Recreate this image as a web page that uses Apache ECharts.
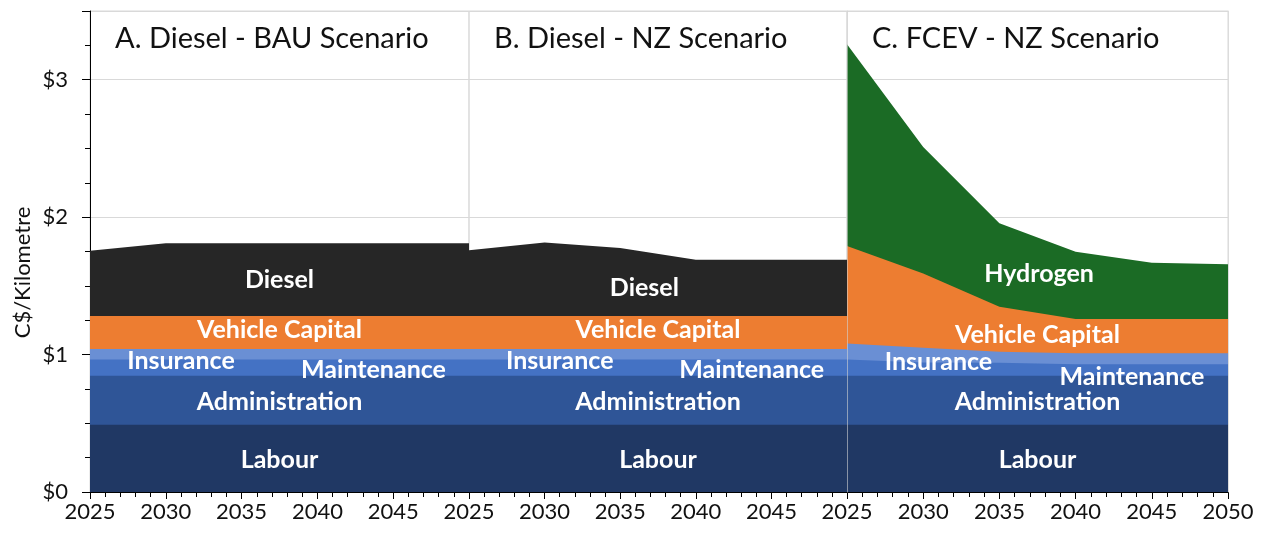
<!DOCTYPE html>
<html>
<head>
<meta charset="utf-8">
<script src="https://cdn.jsdelivr.net/npm/echarts@6/dist/echarts.min.js"></script>
<style>
  html, body { margin: 0; padding: 0; background: #fff; }
  #chart { width: 1261px; height: 536px; }
</style>
</head>
<body>
<div id="chart"></div>
<script>
// data, C$/km
const years = [2025, 2030, 2035, 2040, 2045, 2050];
const layerNames = ["Labour", "Administration", "Maintenance", "Insurance", "Vehicle Capital"];

const labourA = [0.49, 0.49, 0.49, 0.49, 0.49, 0.49];
const adminA = [0.355, 0.355, 0.355, 0.355, 0.355, 0.355];
const maintA = [0.12, 0.12, 0.12, 0.12, 0.12, 0.12];
const insurA = [0.075, 0.075, 0.075, 0.075, 0.075, 0.075];
const capitalA = [0.24, 0.24, 0.24, 0.24, 0.24, 0.24];
const dieselA = [0.475, 0.53, 0.53, 0.53, 0.53, 0.53];

const labourB = [0.49, 0.49, 0.49, 0.49, 0.49, 0.49];
const adminB = [0.355, 0.355, 0.355, 0.355, 0.355, 0.355];
const maintB = [0.12, 0.12, 0.12, 0.12, 0.12, 0.12];
const insurB = [0.075, 0.075, 0.075, 0.075, 0.075, 0.075];
const capitalB = [0.24, 0.24, 0.24, 0.24, 0.24, 0.24];
const dieselB = [0.48, 0.535, 0.495, 0.41, 0.41, 0.41];

const labourC = [0.49, 0.49, 0.49, 0.49, 0.49, 0.49];
const adminC = [0.355, 0.355, 0.355, 0.355, 0.355, 0.355];
const maintC = [0.12, 0.097, 0.095, 0.085, 0.085, 0.085];
const insurC = [0.115, 0.108, 0.08, 0.08, 0.08, 0.08];
const capitalC = [0.71, 0.54, 0.328, 0.248, 0.248, 0.248];
const hydrogenC = [1.468, 0.92, 0.608, 0.49, 0.41, 0.40];

const panelTitles = ["A. Diesel - BAU Scenario", "B. Diesel - NZ Scenario", "C. FCEV - NZ Scenario"];
const yTicks = [0, 1, 2, 3];

const colors = {
    "Labour": "#203864",
    "Administration": "#2f5597",
    "Maintenance": "#4472c4",
    "Insurance": "#6a8fd4",
    "Vehicle Capital": "#ed7d31",
    "Diesel": "#262626",
    "Hydrogen": "#1b6b25"
};

const panels = [
    {names: [...layerNames, "Diesel"], layers: [labourA, adminA, maintA, insurA, capitalA, dieselA]},
    {names: [...layerNames, "Diesel"], layers: [labourB, adminB, maintB, insurB, capitalB, dieselB]},
    {names: [...layerNames, "Hydrogen"], layers: [labourC, adminC, maintC, insurC, capitalC, hydrogenC]}
];

// where each area label sits: [layer, year, pixel shift down]
const labelSpots = [
    [[0, 2037.5, 2], [1, 2037.5, 2], [2, 2043.7, 2], [3, 2031, 7], [4, 2037.5, -3], [5, 2037.5, 0]],
    [[0, 2037.5, 2], [1, 2037.5, 2], [2, 2043.7, 2], [3, 2031, 7], [4, 2037.5, -3], [5, 2036.6, 4]],
    [[0, 2037.5, 2], [1, 2037.5, 2], [2, 2043.7, 7], [3, 2031, 6], [4, 2037.5, 2], [5, 2037.6, -2]]
];

const FONT = "Lato, 'Open Sans', sans-serif";

const valueAt = (arr, yr) => {
    for (let i = 0; i < years.length - 1; i++) {
        if (yr >= years[i] && yr <= years[i + 1]) {
            const t = (yr - years[i]) / (years[i + 1] - years[i]);
            return arr[i] + t * (arr[i + 1] - arr[i]);
        }
    }
    return arr[arr.length - 1];
};
const layerMid = (layers, k, yr) => {
    let base = 0;
    for (let j = 0; j < k; j++) base += valueAt(layers[j], yr);
    return base + valueAt(layers[k], yr) / 2;
};
// running totals, so each area can be filled down to zero
const cumulative = layers => {
    const out = [];
    let run = years.map(() => 0);
    layers.forEach(l => {
        run = run.map((v, j) => v + l[j]);
        out.push(run);
    });
    return out;
};

const gridBox = [
    {left: 90, width: 379},
    {left: 469, width: 378},
    {left: 847, width: 381}
];

const chart = echarts.init(document.getElementById("chart"));

const grid = gridBox.map(g => ({
    left: g.left, width: g.width, top: 11, bottom: 44,
    show: true, borderColor: "#d9d9d9", borderWidth: 1, backgroundColor: "transparent"
}));

const xAxis = gridBox.map((g, i) => ({
    type: "value", gridIndex: i, min: 2025, max: 2050, interval: 5,
    axisLine: {show: true, lineStyle: {color: "#000", width: 1}},
    axisTick: {show: true, length: 7, lineStyle: {color: "#000"}},
    minorTick: {show: true, splitNumber: 5, length: 5, lineStyle: {color: "#000"}},
    axisLabel: {
        color: "#111", fontSize: 22, fontFamily: FONT, margin: 9,
        showMaxLabel: i === 2, showMinLabel: true,
        formatter: v => String(v)
    },
    splitLine: {show: false}
}));

const yBase = {type: "value", min: 0, max: 3.5, interval: 1};
const yAxis = [
    // panel A: labels + major ticks
    {...yBase, gridIndex: 0,
        name: "C$/Kilometre", nameLocation: "middle", nameGap: 56,
        nameTextStyle: {fontSize: 22, fontFamily: FONT, color: "#111", padding: [0, 42, 0, 0]},
        axisLine: {show: true, lineStyle: {color: "#000"}},
        axisTick: {show: true, length: 8, lineStyle: {color: "#000"}},
        axisLabel: {color: "#111", fontSize: 22, fontFamily: FONT, margin: 22,
            formatter: v => yTicks.includes(v) ? "$" + v : ""},
        splitLine: {show: true, lineStyle: {color: "#d9d9d9"}}
    },
    // panel A: minor ticks
    {type: "value", min: 0, max: 3.5, interval: 0.25, gridIndex: 0, position: "left",
        axisLine: {show: false}, axisTick: {show: true, length: 5, lineStyle: {color: "#000"}},
        axisLabel: {show: false}, splitLine: {show: false}},
    // panels B, C: gridlines
    {...yBase, gridIndex: 1, axisLine: {show: false}, axisTick: {show: false}, axisLabel: {show: false},
        splitLine: {show: true, lineStyle: {color: "#d9d9d9"}}},
    {...yBase, gridIndex: 2, axisLine: {show: false}, axisTick: {show: false}, axisLabel: {show: false},
        splitLine: {show: true, lineStyle: {color: "#d9d9d9"}}},
    // panel dividers drawn over the areas
    {...yBase, gridIndex: 1, z: 10, axisLine: {show: true, lineStyle: {color: "rgba(210,210,210,0.6)"}},
        axisTick: {show: false}, axisLabel: {show: false}, splitLine: {show: false}},
    {...yBase, gridIndex: 2, z: 10, axisLine: {show: true, lineStyle: {color: "rgba(210,210,210,0.6)"}},
        axisTick: {show: false}, axisLabel: {show: false}, splitLine: {show: false}}
];
const yIndexFor = [0, 2, 3];

const series = [];
panels.forEach((p, i) => {
    const tops = cumulative(p.layers);
    // top layer first, lower layers painted over it
    for (let k = p.names.length - 1; k >= 0; k--) {
        const name = p.names[k];
        series.push({
            name, type: "line", xAxisIndex: i, yAxisIndex: yIndexFor[i],
            symbol: "none", showSymbol: false, smooth: false, silent: true,
            lineStyle: {width: 0},
            itemStyle: {color: colors[name]},
            areaStyle: {color: colors[name], opacity: 1, origin: "start"},
            data: years.map((y, j) => [y, tops[k][j]])
        });
    }
    series.push({
        type: "scatter", xAxisIndex: i, yAxisIndex: yIndexFor[i], z: 5, silent: true,
        symbolSize: 0, itemStyle: {color: "transparent", opacity: 1},
        label: {show: true, position: "inside", color: "#ffffff", opacity: 1, fontWeight: "bold",
            fontSize: 25, fontFamily: FONT, formatter: d => d.name},
        data: labelSpots[i].map(([k, yr, dy]) => ({
            name: p.names[k],
            value: [yr, layerMid(p.layers, k, yr)],
            label: {offset: [0, dy]}
        }))
    });
});

const title = panelTitles.map((t, i) => ({
    text: t, left: gridBox[i].left + 20, top: 19,
    textStyle: {fontSize: 29, fontWeight: "normal", fontFamily: FONT, color: "#111"}
}));

chart.setOption({
    animation: false,
    backgroundColor: "#fff",
    title, grid, xAxis, yAxis, series
});
</script>
</body>
</html>
